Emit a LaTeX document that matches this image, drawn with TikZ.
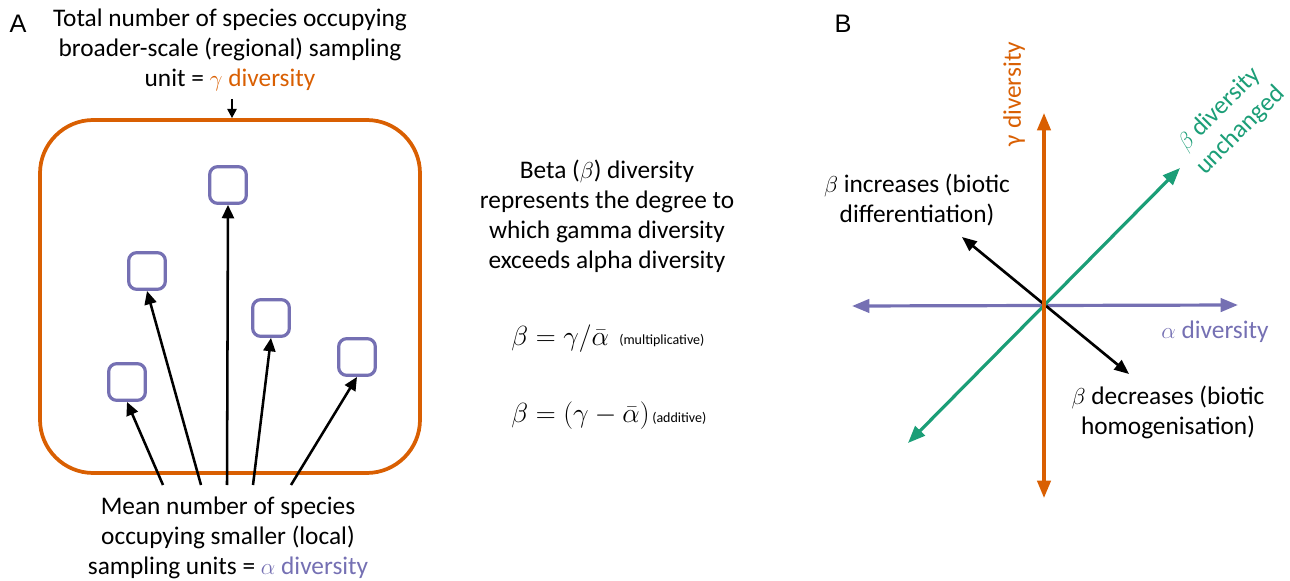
\documentclass[tikz,border=0pt]{standalone}
\usepackage{fontspec}
\setmainfont{Carlito}
\newfontfamily\arialfont{Liberation Sans}
\usetikzlibrary{arrows.meta}
\definecolor{dorange}{RGB}{217,95,2}
\definecolor{dpurple}{RGB}{117,112,179}
\definecolor{dgreen}{RGB}{27,158,119}
\begin{document}
\begin{tikzpicture}[x=0.75pt,y=-0.75pt,
  txt/.style={align=center, font=\fontsize{19}{22.5}\selectfont, inner sep=0pt},
  panel/.style={font=\arialfont\fontsize{19}{22}\selectfont, inner sep=0pt},
  site/.style={draw=dpurple, line width=2.4pt, rounded corners=6pt, minimum size=27.5pt, inner sep=0pt},
  parr/.style={line width=1.9pt, -{Triangle[width=9pt,length=10pt]}},
  axis/.style={line width=2.4pt, {Triangle[width=10pt,length=13pt]}-{Triangle[width=10pt,length=13pt]}},
  barr/.style={line width=2pt, {Triangle[width=9pt,length=11pt]}-{Triangle[width=9pt,length=11pt]}},
  formula/.style={anchor=west, inner sep=0pt, font=\fontsize{20}{24}\selectfont},
  smalltxt/.style={anchor=west, inner sep=0pt, font=\fontsize{10.5}{13}\selectfont}
]
\useasboundingbox (0,0) rectangle (1290,581);

% ---------- Panel A ----------
\node[panel] (lblA) at (18,24) {A};
\node[txt] (gammatxt) at (230,50) {Total number of species occupying\\broader-scale (regional) sampling\\unit = \textcolor{dorange}{$\gamma$ diversity}};
\node[draw=dorange, line width=2.8pt, rounded corners=40pt, minimum width=285pt, minimum height=264.75pt] (region) at (230,296.5) {};
\coordinate (gtop) at (232,99);
\draw[line width=1.5pt, -{Triangle[width=7pt,length=7pt]}] (gtop) -- (region.north -| gtop);

\node[site] (s1) at (228,185) {};
\node[site] (s2) at (147,271) {};
\node[site] (s3) at (271,318) {};
\node[site] (s4) at (357,357) {};
\node[site] (s5) at (127,382) {};

\coordinate (b5) at (163,485);
\coordinate (b2) at (201,485);
\coordinate (b1) at (227,485);
\coordinate (b3) at (253,485);
\coordinate (b4) at (291,485);
\draw[parr] (b5) -- (s5.south);
\draw[parr] (b2) -- (s2.south);
\draw[parr] (b1) -- (s1.south);
\draw[parr] (b3) -- (s3.south);
\draw[parr] (b4) -- (s4.south);

\node[txt] (alphatxt) at (228,538) {Mean number of species\\occupying smaller (local)\\sampling units = \textcolor{dpurple}{$\alpha$ diversity}};

% ---------- middle text ----------
\node[txt] (betatxt) at (607,216) {Beta ($\beta$) diversity\\represents the degree to\\which gamma diversity\\exceeds alpha diversity};
\node[formula] (f1) at (511,339) {$\beta = \gamma/\bar{\alpha}$};
\node[smalltxt] (f1n) at (619,341) {(multiplicative)};
\node[formula] (f2) at (511,416) {$\beta = (\gamma - \bar{\alpha})$};
\node[smalltxt] (f2n) at (652,418) {(additive)};

% ---------- Panel B ----------
\node[panel] (lblB) at (843,24) {B};
\coordinate (O) at (1044,305);
\coordinate (gT) at (1044,113);
\coordinate (gB) at (1044,498);
\coordinate (aL) at (852,306);
\coordinate (aR) at (1238,305);
\coordinate (eU) at (1180,168);
\coordinate (eD) at (908,443);
\coordinate (kU) at (962,237);
\coordinate (kD) at (1129,374);

\draw[axis, draw=dpurple, fill=dpurple] (aL) -- (aR);
\draw[barr] (kU) -- (kD);
\draw[axis, draw=dgreen, fill=dgreen] (eD) -- (eU);
\draw[axis, draw=dorange, fill=dorange] (gB) -- (gT);

\node[txt, text=dorange, rotate=90] (glab) at (1014,94) {γ diversity};
\node[txt, text=dgreen, rotate=45] (blab) at (1230,120) {$\beta$ diversity\\unchanged};
\node[txt] (inc) at (917,200) {$\beta$ increases (biotic\\differentiation)};
\node[txt] (dec) at (1168,412) {$\beta$ decreases (biotic\\homogenisation)};
\node[txt, text=dpurple] (alab) at (1215,332) {$\alpha$ diversity};
\end{tikzpicture}
\end{document}
